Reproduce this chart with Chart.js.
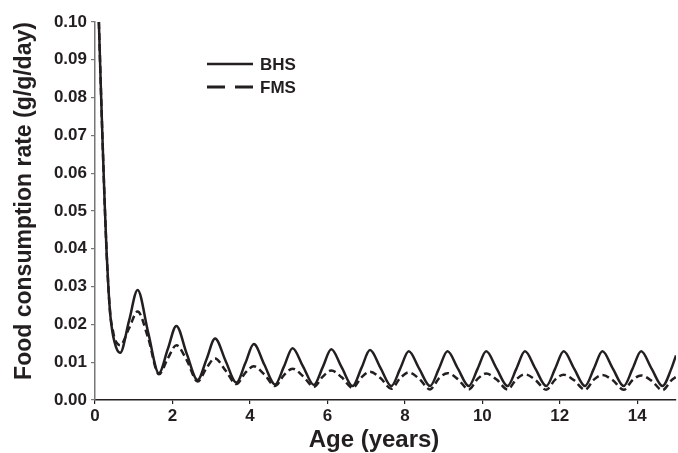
<!DOCTYPE html>
<html>
<head>
<meta charset="utf-8">
<script src="https://cdn.jsdelivr.net/npm/chart.js@4/dist/chart.umd.min.js"></script>
<style>
  html, body { margin: 0; padding: 0; background: #fff; }
  #wrap { width: 678px; height: 453px; }
</style>
</head>
<body>
<div id="wrap"><canvas id="foodChart" width="678" height="453"></canvas></div>
<script>
const ages = [0.1, 0.15, 0.2, 0.25, 0.3, 0.35, 0.4, 0.45, 0.5, 0.57, 0.65,
  0.88, 1.1, 1.37, 1.65,
  1.88, 2.1, 2.37, 2.65,
  2.88, 3.1, 3.37, 3.65,
  3.88, 4.1, 4.37, 4.65,
  4.88, 5.1, 5.37, 5.65,
  5.88, 6.1, 6.37, 6.65,
  6.88, 7.1, 7.37, 7.65,
  7.88, 8.1, 8.37, 8.65,
  8.88, 9.1, 9.37, 9.65,
  9.88, 10.1, 10.37, 10.65,
  10.88, 11.1, 11.37, 11.65,
  11.88, 12.1, 12.37, 12.65,
  12.88, 13.1, 13.37, 13.65,
  13.88, 14.1, 14.37, 14.65,
  14.88, 15.0];

const bhs = [0.100, 0.083, 0.067, 0.052, 0.039, 0.029, 0.022, 0.018, 0.0155, 0.0133, 0.0125,
  0.021, 0.0291, 0.018, 0.0071,
  0.0135, 0.0196, 0.0122, 0.0053,
  0.0108, 0.0163, 0.0104, 0.0046,
  0.0097, 0.0148, 0.0094, 0.0041,
  0.0089, 0.0137, 0.0089, 0.0040,
  0.0087, 0.0134, 0.0086, 0.0037,
  0.0085, 0.0132, 0.0085, 0.0037,
  0.0083, 0.0129, 0.0083, 0.0037,
  0.0083, 0.0129, 0.0083, 0.0037,
  0.0083, 0.0129, 0.0083, 0.0037,
  0.0083, 0.0129, 0.0083, 0.0037,
  0.0083, 0.0129, 0.0083, 0.0037,
  0.0083, 0.0129, 0.0083, 0.0037,
  0.0083, 0.0129, 0.0083, 0.0037,
  0.0083, 0.0118];

const fms = [0.100, 0.083, 0.067, 0.052, 0.039, 0.029, 0.022, 0.019, 0.0165, 0.015, 0.0145,
  0.019, 0.0234, 0.0165, 0.0068,
  0.011, 0.0145, 0.0105, 0.0049,
  0.0085, 0.011, 0.0078, 0.0042,
  0.0072, 0.0089, 0.0068, 0.0037,
  0.0066, 0.0083, 0.0063, 0.0035,
  0.0062, 0.0078, 0.006, 0.0032,
  0.006, 0.0075, 0.0058, 0.003,
  0.0058, 0.0073, 0.0056, 0.0028,
  0.0057, 0.0071, 0.0055, 0.0028,
  0.0056, 0.007, 0.0054, 0.0028,
  0.0055, 0.0068, 0.0053, 0.0027,
  0.0054, 0.0067, 0.0052, 0.0027,
  0.0054, 0.0066, 0.0052, 0.0027,
  0.0053, 0.0065, 0.0051, 0.0026,
  0.0052, 0.0061];

const seriesNames = ["BHS", "FMS"];
const xTitle = "Age (years)";
const yTitle = "Food consumption rate (g/g/day)";

const ink = "#231f20";
const font = "Liberation Sans, Arial, sans-serif";

// axis titles + legend drawn inside the plot like the original
const extras = {
  id: "extras",
  afterDraw(chart) {
    const ctx = chart.ctx;
    ctx.save();
    ctx.fillStyle = ink;
    ctx.textBaseline = "middle";

    ctx.font = `bold 24px ${font}`;
    ctx.textAlign = "center";
    ctx.fillText(xTitle, 374, 440);

    ctx.save();
    ctx.translate(25, 201);
    ctx.rotate(-Math.PI / 2);
    ctx.font = `bold 23px ${font}`;
    ctx.fillText(yTitle, 0, 0);
    ctx.restore();

    // legend
    ctx.strokeStyle = ink;
    ctx.lineWidth = 2.5;
    ctx.beginPath();
    ctx.moveTo(207, 64);
    ctx.lineTo(253, 64);
    ctx.stroke();
    ctx.lineWidth = 3;
    ctx.setLineDash([18, 10]);
    ctx.beginPath();
    ctx.moveTo(207, 87);
    ctx.lineTo(253, 87);
    ctx.stroke();
    ctx.setLineDash([]);
    ctx.font = `bold 17px ${font}`;
    ctx.textAlign = "left";
    ctx.fillText(seriesNames[0], 260, 65);
    ctx.fillText(seriesNames[1], 260, 88);
    ctx.restore();
  },
};

new Chart(document.getElementById("foodChart"), {
  type: "line",
  data: {
    datasets: [
      {
        label: seriesNames[0],
        data: ages.map((a, i) => ({ x: a, y: bhs[i] })),
        borderColor: ink,
        borderWidth: 2.5,
        pointRadius: 0,
        cubicInterpolationMode: "monotone",
      },
      {
        label: seriesNames[1],
        data: ages.map((a, i) => ({ x: a, y: fms[i] })),
        borderColor: ink,
        borderWidth: 2.5,
        borderDash: [7, 4],
        pointRadius: 0,
        cubicInterpolationMode: "monotone",
      },
    ],
  },
  options: {
    responsive: false,
    animation: false,
    layout: { padding: { top: 22, right: 2, left: 0, bottom: 0 } },
    plugins: { legend: { display: false }, tooltip: { enabled: false } },
    scales: {
      x: {
        type: "linear",
        min: 0,
        max: 15,
        grid: { drawOnChartArea: false, drawTicks: true, tickLength: 4, color: ink, lineWidth: 1.2 },
        border: { display: true, color: ink, width: 1.5 },
        ticks: {
          stepSize: 2,
          includeBounds: false,
          maxRotation: 0,
          padding: 2,
          color: ink,
          font: { family: font, size: 17, weight: "bold" },
        },
        afterFit: (s) => { s.height = 53; },
      },
      y: {
        min: 0,
        max: 0.1,
        grid: { drawOnChartArea: false, drawTicks: true, tickLength: 4, color: "#777", lineWidth: 1.2 },
        border: { display: true, color: "#777", width: 1.5 },
        ticks: {
          stepSize: 0.01,
          padding: 4,
          color: ink,
          font: { family: font, size: 17, weight: "bold" },
          callback: (v) => v.toFixed(2),
        },
        afterFit: (s) => { s.width = 95; },
      },
    },
  },
  plugins: [extras],
});
</script>
</body>
</html>
